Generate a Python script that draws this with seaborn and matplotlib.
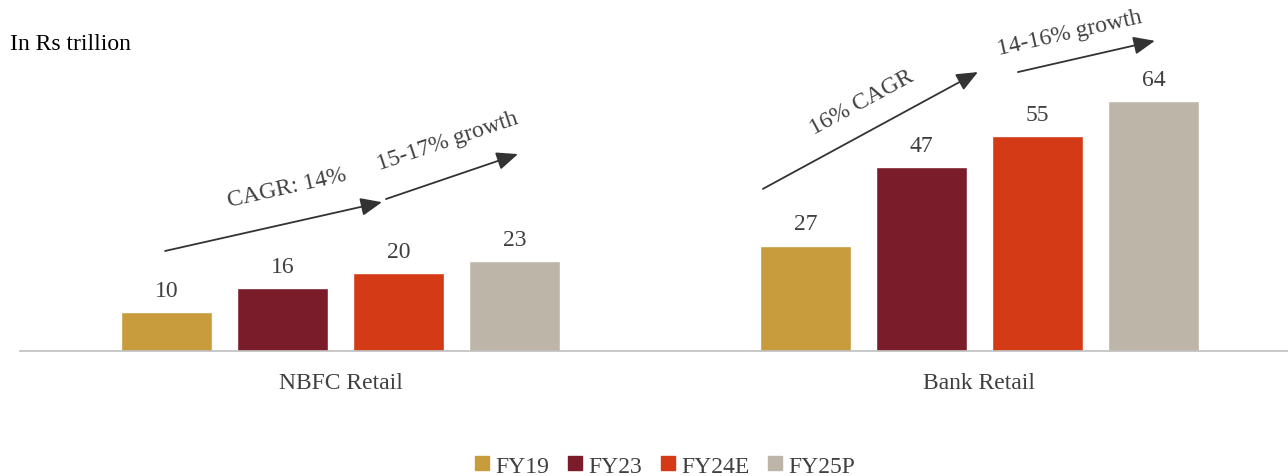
import numpy as np
import pandas as pd
import seaborn as sns
import matplotlib.pyplot as plt
from matplotlib.lines import Line2D

# data (Rs trillion)
segments = ["NBFC Retail", "Bank Retail"]
years = ["FY19", "FY23", "FY24E", "FY25P"]
nbfc_vals = [10, 16, 20, 23]
bank_vals = [27, 47, 55, 64]
colors = ["#C89B3C", "#7B1C2A", "#D53A17", "#BEB5A9"]

df = pd.DataFrame({
    "segment": [segments[0]] * 4 + [segments[1]] * 4,
    "year": years * 2,
    "value": nbfc_vals + bank_vals,
})

sns.set_style("white")
plt.rcParams["font.family"] = ["Liberation Serif", "DejaVu Serif"]
txt = "#404040"

fig = plt.figure(figsize=(12.88, 4.77), dpi=100)
ax = fig.add_axes([20 / 1288, 125 / 477, 1268 / 1288, 352 / 477])

sns.barplot(data=df, x="segment", y="value", hue="year", palette=colors,
            width=0.726, gap=0.216, saturation=1, legend=False, ax=ax)

ax.set_xlim(-0.5016, 1.483)
ax.set_ylim(0, 90.1)
ax.set_xlabel("")
ax.set_ylabel("")
ax.set_yticks([])
for s in ["top", "right", "left"]:
    ax.spines[s].set_visible(False)
ax.spines["bottom"].set_color("#BFBFBF")
ax.spines["bottom"].set_linewidth(1.2)
ax.tick_params(axis="x", length=0, pad=15, labelsize=17, labelcolor=txt)

for c in ax.containers:
    ax.bar_label(c, labels=[f"{v:.0f}" for v in c.datavalues], padding=8,
                 fontsize=17, color=txt)

# growth arrows
arrows = [((-0.2746, 25.6), (0.065, 38.1)),
          ((0.0712, 38.9), (0.2778, 50.4)),
          ((0.6612, 41.5), (0.9977, 71.4)),
          ((1.0603, 71.4), (1.2746, 79.4))]
for start, end in arrows:
    ax.annotate("", xy=end, xytext=start,
                arrowprops=dict(arrowstyle="-|>,head_length=1.3,head_width=0.55",
                                color="#333333", lw=1.3, shrinkA=0, shrinkB=0))

notes = [("CAGR: 14%", -0.0837, 42.0, 12.7),
         ("15-17% growth", 0.1682, 53.8, 18.5),
         ("16% CAGR", 0.8161, 63.7, 28.5),
         ("14-16% growth", 1.1416, 81.4, 12.7)]
for label, x, y, rot in notes:
    ax.text(x, y, label, rotation=rot, rotation_mode="anchor", ha="center",
            va="center", fontsize=17, color=txt)

fig.text(10 / 1288, 1 - 44 / 477, "In Rs trillion", fontsize=17, color="black",
         va="center", ha="left")

handles = [Line2D([], [], marker="s", linestyle="none", markersize=10,
                  markerfacecolor=c, markeredgecolor=c) for c in colors]
fig.legend(handles, years, loc="center", bbox_to_anchor=(664 / 1288, 1 - 467 / 477),
           ncol=4, frameon=False, fontsize=17, labelcolor=txt,
           handletextpad=0.15, columnspacing=0.7, handlelength=0.8)

fig.savefig("out.png", dpi=100)
